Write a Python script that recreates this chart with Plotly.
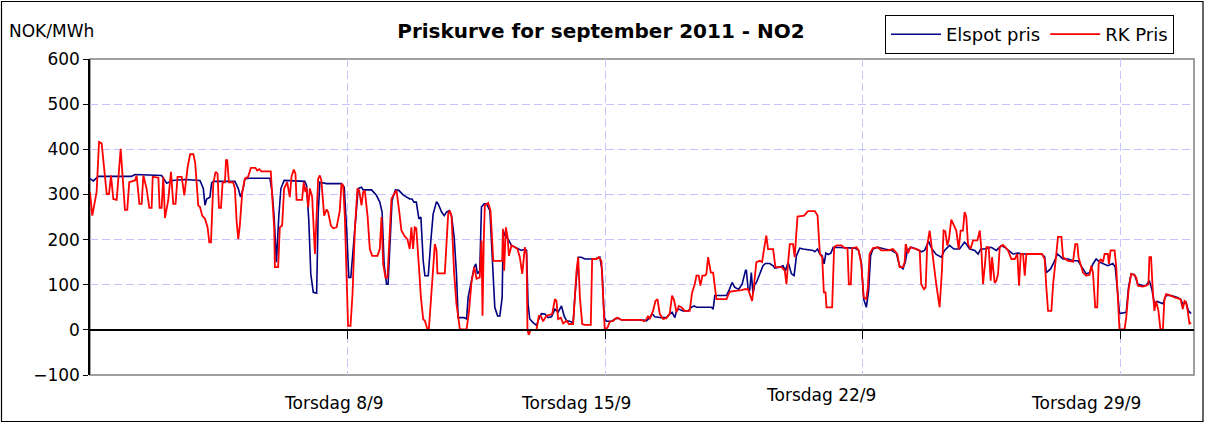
import pandas as pd
import plotly.graph_objects as go

# ---------------- data (hours after 2011-09-01 00:00, NOK/MWh) ----------------
spot_hours = [0, 2.2, 5.4, 27, 29.3, 46.7, 50, 53.7, 62, 68.5,
    71.7, 73.9, 75, 76.1, 78.2, 79.3, 80.4, 94.5, 96.7, 98.2, 99.9, 101, 104.2, 117.3, 118.8,
    120.1, 121.6, 123.1, 124.5, 126.6, 140.1,
    141.2, 142.7, 144, 145.6, 147.8, 148.8, 149.9, 154.3, 164, 165.8, 167.3, 168.8, 170.1,
    172.3, 174.9, 177.1, 178.1, 183.6, 186.8, 189, 190.5, 191.8, 193.4, 194.4, 195.5, 197,
    199.2, 201.4, 204.2, 206.4, 208.5, 210, 211.3, 212.8,
    214.5, 215.8, 217.3, 218.4, 220.6, 222.3, 223.8, 226, 227.1, 229.3, 231, 232.5, 234.3,
    235.8, 237.5, 239, 240.1, 244, 245.6, 246.6, 248.4, 250.6, 251.6, 252.7, 254.2, 255.3,
    257.1, 258.6, 260.8, 262.3, 264, 265.8, 267.3, 268.8, 269.5, 270.6, 272.7, 274.9, 277.1,
    279.3, 281.4, 283.6, 284.7,
    285.7, 286.8, 289, 291.2, 292.7, 294.4, 296.6, 298.8, 301, 303.2, 305.3, 307.5, 309.2,
    310.8, 312.9, 315.1, 316.2, 318.4, 320.5, 322.7, 329.2, 332.5, 334, 335.3, 336.8, 340.1,
    342.2, 344.4, 346.6, 358.5,
    360.7, 362.9, 365.1, 366.6, 368.3, 372.7, 375.9, 378.1, 379.6, 381.4, 382.5, 384, 386.8,
    390.1, 392.2, 394, 395.5, 405.3, 406.4, 407.5, 415.1, 416.8, 418.8, 420.5, 423.1, 425.3,
    427.6,
    428.1, 429.2, 430.2, 431.3, 432.4, 433.5, 434.6, 436.8, 438.9, 440.5, 443.3, 445.5, 446.6,
    449.8, 452, 453.5, 455.3, 457.5, 459.2, 460.7, 462.9, 465.1, 471.6, 472.7, 474.5, 476,
    477.5, 478.8, 479.9, 481.4, 483.2, 484.7, 498.8,
    501.3, 503, 504.6, 506.3, 507.8, 509.1, 510.6, 513.9, 518.2, 522.6, 525.8, 528, 530.2,
    531.7, 533, 535.6, 538.9, 542.1, 544.3, 546.9, 549.1, 551.9, 555.2, 557.3, 560.6, 563.4,
    567.1, 570.3,
    571.5, 573.7, 577, 579.2, 580.9, 583.5, 587.8, 591.1, 594.4, 596.5, 599.8, 602, 605.2,
    608.5, 620.4, 622.6, 623.7, 626.5, 628.7, 630.9, 632.4, 634.6, 637.8, 641.1,
    644.3, 646, 647.6, 649.7, 651.9, 654.1, 656.2, 658.4, 660.6, 663.8, 667.1, 668.6, 669.9,
    671.4, 675.8, 677.3, 679, 681.2, 683.4, 686.6, 688.8, 690.9, 692.5, 694.2, 696, 697.5,
    699.7, 701.8, 705.1, 708.4, 711.2, 712.7, 714.8, 716.4, 718.1]
spot_values = [335, 330, 340, 340, 344, 342, 325, 331, 333, 331,
    331, 313, 276, 290, 294, 325, 329, 329, 313, 294, 313, 335, 336, 336, 305,
    250, 150, 250, 313, 331, 329,
    320, 242, 124, 83, 81, 257, 327, 324, 324, 316, 227, 116, 116,
    198, 313, 316, 310, 310, 298, 283, 261, 146, 101, 101, 198, 287,
    310, 309, 299, 294, 290, 290, 283, 283,
    246, 250, 153, 120, 120, 198, 257, 284, 279, 261, 253, 261, 264,
    253, 205, 124, 27, 27, 24, 72, 105, 139, 146, 124, 131, 272,
    279, 279, 264, 157, 50, 31, 31, 72, 220, 209, 201, 187, 183,
    179, 176, 179, 176,
    57, 24, 16, 10, 24, 36, 35, 27, 29, 46, 39, 53, 31,
    20, 19, 16, 72, 161, 161, 157, 157, 161, 131, 27, 19, 19,
    24, 26, 22, 22,
    22, 20, 27, 36, 29, 27, 27, 35, 39, 27, 42, 46, 42,
    42, 50, 53, 50, 50, 46, 76, 76, 88, 105, 94, 90, 101,
    133,
    131, 90, 87, 127, 79, 101, 105, 124, 142, 147, 147, 142, 137,
    139, 142, 131, 150, 124, 120, 164, 181, 179, 176, 173, 179, 168,
    164, 146, 170, 167, 170, 183, 181,
    176, 150, 68, 50, 87, 164, 179, 183, 179, 176, 170, 142, 135,
    150, 176, 183, 179, 173, 176, 196, 179, 167, 161, 176, 187, 179,
    179, 194,
    190, 179, 176, 168, 179, 179, 183, 176, 187, 183, 174, 168, 170,
    168, 168, 162, 127, 135, 150, 168, 164, 157, 157, 153,
    153, 142, 135, 124, 127, 146, 157, 150, 146, 142, 147, 139, 94,
    36, 39, 94, 124, 122, 101, 98, 99, 109, 90, 57, 63, 61,
    58, 76, 76, 73, 68, 57, 61, 42, 36]

rk_hours = [0, 1.5, 4.3, 5.9, 7.6, 10.9, 12.4, 13.7, 15.2, 17.4, 20, 22.8, 24.3, 25.6,
    29.3, 30.4, 32.2, 33.7, 34.8, 36.9, 38.7, 40.2, 40.9, 44.6, 45.4, 46.7, 47.8, 48.9, 51,
    52.8, 54.3, 55.8, 57.1, 59.8, 61.5, 63.7, 65.3, 67.4,
    68.6, 70.6, 71.7, 73.2, 75, 76.7, 77.8, 78.9, 80.4, 81.9, 83.2, 84.1, 85.4, 86.5, 88,
    88.7, 89.5, 90.6, 93.4, 94.5, 95.6, 96.7, 97.7, 99.3, 101, 103.1, 104.9, 107.9, 109,
    110.3, 111.8, 117.9, 118.8, 120.1, 120.6, 122.7, 123.8, 125.3, 126.6, 128.6, 130.3,
    131.4, 132.9, 134, 134.7, 138.3, 139.4, 140.5,
    141.2, 142.3, 143.4, 144.9, 146.7, 147.8, 148.8, 149.9, 150.9, 152.7, 154.3, 155.3,
    157.1, 158.6, 160.8, 161.8, 162.9, 164, 165.1, 166.2, 167.3, 168.3, 169.9, 171.2, 172.7,
    174.4, 175.5, 177.1, 178.1, 179.2, 181, 182.5, 184, 187.5, 189, 190.1, 191.2, 192.7, 194,
    195.5, 196.6, 198.3, 199.9, 201.6, 203.1, 205.3, 207, 208.5, 209.6, 210.7, 211.8, 212.8,
    213.9,
    215, 215.8, 217.3, 218.4, 220.1, 221, 222.7, 223.8, 224.9, 226, 226.6, 231.4, 232.5,
    233.6, 234.7, 235.8, 237.5, 239, 240.1, 241.2, 245.6, 247.1, 248.8, 250.6, 252.1, 254.2,
    255.3, 256, 256.8, 257.5, 259.7, 261.2, 263, 268.8, 269.3, 270.1, 271.2, 272.3, 273.2,
    274.9, 277.1, 278.8, 280.3, 281.9, 283.6, 284.7,
    285.3, 286.1, 287.4, 291.2, 292.7, 294, 295.5, 297.7, 299.8, 301.4, 303.2, 304.2, 305.3,
    307.1, 308.6, 310.8, 312.3, 315.1, 316.2, 317.3, 318.4, 319.5, 321, 322.7, 326.6, 327.5,
    330.3, 331.8, 333.5, 334.6, 335.7, 337.5, 339, 341.2, 342.7, 344, 346.6, 358.5,
    359.6, 361.4, 362.9, 364, 365.1, 367.2, 368.8, 370.1, 371.6, 373.8, 375.9, 378.1, 379.6,
    380.9, 382.5, 384, 385.7, 387.9, 391.1, 392.7, 394.4, 395.5, 397, 398.1, 399.4, 401, 402,
    403.1, 404.9, 406.4, 407.5, 408.5, 415.1, 417.3, 424.9, 427.1,
    429.2, 430.2, 431.8, 433.1, 434.6, 436.8, 438.3, 439.6, 441.1, 442.2, 445.5, 447, 451,
    453.1, 454.2, 455.3, 456.4, 458.5, 459.6, 461.4, 465.7, 468.3, 472.7, 474.5, 476, 477.5,
    478.6, 479.7, 480.3, 484, 485.3, 486.9, 490.1, 492.3, 494, 494.9, 496.2, 497.1, 499.9,
    501.3, 503, 504.6, 506.3, 507.3, 508.4, 510.6, 513.9, 516, 520.4, 523.7, 526.5, 528,
    530.2, 531.3, 532, 533.5, 535, 538.9, 541.1, 542.1, 543.9, 545, 546, 547.6, 549.8, 551.9,
    554.1, 555.6, 556.7, 557.8, 559.1, 560.2, 561.7, 563.9, 565, 566.5, 567.8, 569.3, 570.4,
    571.5, 572.6, 574.3, 575.9, 578.7, 580.3, 581.3, 582.4, 583.5, 584.6, 586.1, 587.4,
    588.3, 590, 591.1, 592.2, 593.3, 595.4, 597, 598.7, 600.9, 603.1, 604.8, 605.9, 607,
    608.5, 609.6, 610.7, 620.9, 622.6, 623.7, 624.8, 627, 628.1, 630.2, 631.3, 633.5, 634.6,
    637.8, 641.1, 642.6, 643.9,
    644.7, 647.6, 649.7, 651.9, 653, 654.1, 655.6, 656.9, 657.8, 659.1, 660.6, 661.7, 663.8,
    664.5, 665.6, 668.2, 669.3, 670.3, 671.4, 674.7, 675.8, 677.3, 679, 680.8, 682.3, 683.4,
    686.6, 688.8, 690.3, 690.9, 692, 693.1, 694.2, 695.3, 696.8, 698.1, 699.7, 700.7, 701.8,
    704, 707.3, 711.2, 712.7, 713.8, 714.8, 715.9, 717, 718.1]
rk_values = [305, 253, 305, 416, 413, 301, 301, 342, 290, 288, 401, 266, 266, 327,
    331, 342, 279, 279, 342, 313, 270, 270, 339, 337, 270, 270, 339, 248, 287,
    350, 279, 279, 339, 339, 298, 361, 389, 389,
    370, 276, 272, 253, 246, 227, 194, 194, 324, 350, 346, 270, 270, 327, 327,
    376, 376, 327, 327, 313, 242, 201, 231, 305, 335, 339, 359, 359, 353,
    356, 351, 351, 298, 227, 139, 139, 227, 231, 313, 327, 294,
    339, 355, 346, 288, 288, 327, 305,
    316, 272, 313, 294, 168, 250, 335, 342, 331, 253, 267, 261,
    231, 225, 227, 244, 264, 324, 320, 250, 146, 9, 9, 79, 220,
    313, 309, 276, 305, 309, 253, 179, 164, 164, 179, 250, 146, 116, 116,
    220, 290, 301, 309, 264, 220, 207, 201, 179, 227, 179, 227, 225,
    180,
    116, 72, 24, 20, 1, 1, 87, 146, 190, 176, 125, 125, 198,
    257, 264, 250, 124, 57, 31, 1, 1, 39, 105, 139, 113, 116,
    198, 31, 198, 276, 281, 264, 153, 153, 224, 131, 227, 207, 164,
    187, 183, 179, 161, 124, 183, 168,
    1, -11, 0, 0, 31, 31, 19, 31, 33, 35, 68, 64, 24,
    27, 14, 20, 13, 13, 72, 131, 161, 72, 13, 11, 11, 157,
    157, 161, 153, 72, 1, 5, 18, 20, 25, 27, 22, 22,
    22, 19, 24, 31, 24, 42, 64, 68, 35, 24, 26, 36, 76,
    66, 39, 53, 50, 42, 42, 83, 101, 120, 120, 98, 120, 120, 124,
    161, 127, 127, 87, 68, 68, 85, 88, 90,
    90, 79, 64, 101, 150, 153, 150, 179, 209, 179, 179, 139, 139,
    131, 101, 150, 190, 190, 161, 251, 253, 263, 263, 253, 168, 161,
    83, 83, 50, 50, 183, 187, 187, 181, 181, 101, 101, 181, 183,
    176, 146, 72, 68, 94, 168, 181, 183, 176, 176, 179, 168, 139,
    139, 150, 190, 170, 183, 179, 176, 101, 90, 94, 187, 220, 157, 101,
    50, 131, 220, 218, 187, 201, 244, 227, 220, 179, 220, 220, 261,
    250, 190, 179, 198, 198, 220, 179, 101, 139, 183, 183, 109,
    161, 104, 109, 124, 183, 188, 183, 176, 157, 157, 168, 98, 168,
    168, 120, 168, 168, 157, 94, 42, 42, 101, 168, 206, 206, 161,
    153, 151, 190, 190,
    161, 127, 120, 122, 142, 127, 50, 50, 146, 157, 150, 168, 168,
    146, 176, 176, 139, 72, 1, 1, 27, 87, 124, 122, 116, 98,
    96, 98, 101, 161, 161, 87, 42, 64, 42, 1, 1, 68, 79,
    77, 72, 68, 46, 64, 61, 42, 14, 16]

series_names = ["Elspot pris", "RK Pris"]
series_colors = ["#000080", "#FF0000"]
tick_dates = ["2011-09-08", "2011-09-15", "2011-09-22", "2011-09-29"]
tick_labels = ["Torsdag 8/9", "Torsdag 15/9", "Torsdag 22/9", "Torsdag 29/9"]
y_ticks = [-100, 0, 100, 200, 300, 400, 500, 600]

start = pd.Timestamp("2011-09-01 00:00")
spot_x = start + pd.to_timedelta(spot_hours, unit="h")
rk_x = start + pd.to_timedelta(rk_hours, unit="h")

FONT = "DejaVu Sans"
GRID = "#C4C4FF"

fig = go.Figure()
fig.add_trace(go.Scatter(x=spot_x, y=spot_values, mode="lines", name=series_names[0],
                         line=dict(color=series_colors[0], width=1.6)))
fig.add_trace(go.Scatter(x=rk_x, y=rk_values, mode="lines", name=series_names[1],
                         line=dict(color=series_colors[1], width=1.8)))

# plot area geometry (pixels)
L, R, T, B = 90, 1194, 59, 375
W, H = 1205, 423
pw, ph = R - L, B - T


def px_x(x):
    return (x - L) / pw


def px_y(y):
    return (B - y) / ph


fig.update_layout(
    template="none",
    width=W, height=H,
    margin=dict(l=L, r=W - R, t=T, b=H - B, pad=0, autoexpand=False),
    paper_bgcolor="white", plot_bgcolor="white",
    font=dict(family=FONT, size=16, color="black"),
    title=dict(text="<b>Priskurve for september 2011 - NO2</b>", xref="container",
               x=601 / W, xanchor="center", yref="container", y=1 - 31 / H,
               yanchor="middle", font=dict(family=FONT, size=20, color="black")),
    showlegend=True,
    legend=dict(orientation="h", x=px_x(885), xanchor="left", y=px_y(15), yanchor="top",
                bordercolor="black", borderwidth=1, bgcolor="white",
                font=dict(family=FONT, size=18, color="black"),
                itemwidth=50, tracegroupgap=0),
    xaxis=dict(type="date", range=[start, start + pd.Timedelta(days=30)],
               tickvals=pd.to_datetime(tick_dates), showticklabels=False,
               showgrid=True, gridcolor=GRID, griddash="8px,4px", gridwidth=1.3,
               anchor="free", position=100 / 700, automargin=False,
               showline=True, linecolor="black", linewidth=2,
               ticks="outside", ticklen=8, tickcolor="black", tickwidth=1,
               zeroline=False),
    yaxis=dict(range=[-100, 600], tickvals=y_ticks, showgrid=True, gridcolor=GRID,
               griddash="8px,4px", gridwidth=1.3, zeroline=False, automargin=False,
               showline=True, linecolor="black", linewidth=1.5,
               ticks="outside", ticklen=5, tickcolor="black",
               tickfont=dict(family=FONT, size=17, color="black")),
)

# grey frame of plot area and black outer frame of the chart
fig.add_shape(type="rect", xref="paper", yref="paper", x0=0, x1=1, y0=0, y1=1,
              line=dict(color="#808080", width=1.5), layer="below")
fig.add_shape(type="rect", xref="paper", yref="paper",
              x0=px_x(1.5), x1=px_x(1203), y0=px_y(421.5), y1=px_y(1.5),
              line=dict(color="black", width=1.2))

# axis unit
fig.add_annotation(text="NOK/MWh", xref="paper", yref="paper", x=px_x(7), y=px_y(31),
                   xanchor="left", yanchor="middle", showarrow=False,
                   font=dict(family=FONT, size=17, color="black"))

# category labels
label_pos = [(334, 403), (576, 403), (821, 395), (1086, 403)]
for (lx, ly), txt in zip(label_pos, tick_labels):
    fig.add_annotation(text=txt, xref="paper", yref="paper", x=px_x(lx), y=px_y(ly),
                       xanchor="center", yanchor="middle", showarrow=False,
                       font=dict(family=FONT, size=17, color="black"))

fig.write_html("out.html", config={"displayModeBar": False},
               post_script="document.body.style.margin='0';document.body.style.overflow='hidden';")
